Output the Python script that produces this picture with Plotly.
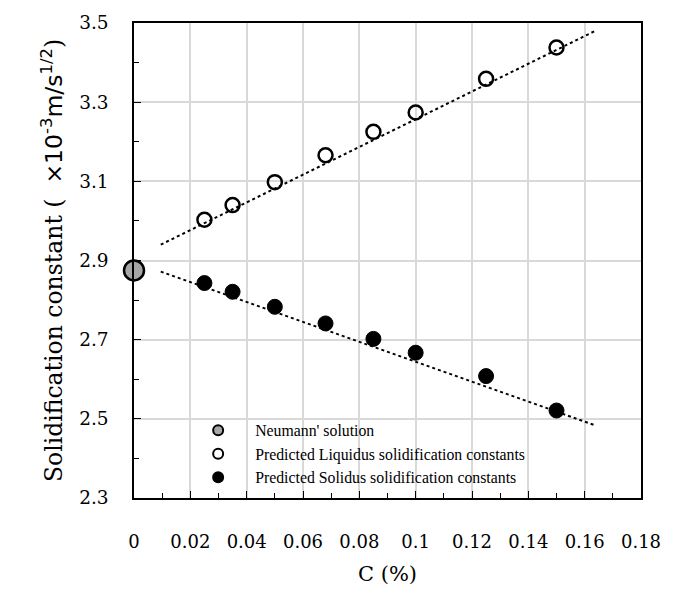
import plotly.graph_objects as go

c_vals = [0.025, 0.035, 0.05, 0.068, 0.085, 0.1, 0.125, 0.15]
liquidus = [3.003, 3.040, 3.098, 3.166, 3.225, 3.274, 3.359, 3.438]
solidus = [2.843, 2.821, 2.783, 2.741, 2.702, 2.667, 2.608, 2.521]
neumann_x = [0.0]
neumann_y = [2.875]
trend_x = [0.0095, 0.164]
trend_liquidus = [2.940, 3.481]
trend_solidus = [2.872, 2.483]

serif = "Liberation Serif"
big_serif = "DejaVu Serif"
fig = go.Figure()
fig.add_trace(go.Scatter(x=trend_x, y=trend_liquidus, mode="lines", line=dict(color="black", dash="dot", width=2),
                         showlegend=False, hoverinfo="skip"))
fig.add_trace(go.Scatter(x=trend_x, y=trend_solidus, mode="lines", line=dict(color="black", dash="dot", width=2),
                         showlegend=False, hoverinfo="skip"))
fig.add_trace(go.Scatter(x=neumann_x, y=neumann_y, mode="markers", showlegend=False, cliponaxis=False,
                         marker=dict(size=20, color="#a6a6a6", line=dict(color="black", width=2.5))))
fig.add_trace(go.Scatter(x=c_vals, y=liquidus, mode="markers", showlegend=False,
                         marker=dict(size=14, color="rgba(255,255,255,0)", line=dict(color="black", width=2.5))))
fig.add_trace(go.Scatter(x=c_vals, y=solidus, mode="markers", showlegend=False,
                         marker=dict(size=15, color="black", line=dict(color="black", width=1))))

legend_items = [
    ("Neumann' solution", "#a6a6a6"),
    ("Predicted Liquidus solidification constants", "white"),
    ("Predicted Solidus solidification constants", "black"),
]
for name, col in legend_items:
    fig.add_trace(go.Scatter(x=[None], y=[None], mode="markers", name=name,
                             marker=dict(size=10, color=col, line=dict(color="black", width=2))))

fig.update_layout(
    width=674, height=594,
    margin=dict(l=134, r=33, t=14, b=87),
    plot_bgcolor="white", paper_bgcolor="white",
    font=dict(family=serif, color="black", size=14.5),
    legend=dict(x=0.093, y=0.178, xanchor="left", yanchor="top", font=dict(size=15.8, family=serif),
                bgcolor="rgba(0,0,0,0)", itemsizing="trace", itemwidth=64, tracegroupgap=0),
    xaxis=dict(range=[0, 0.18], tickvals=[0, 0.02, 0.04, 0.06, 0.08, 0.1, 0.12, 0.14, 0.16, 0.18],
               ticktext=["0", "0.02", "0.04", "0.06", "0.08", "0.1", "0.12", "0.14", "0.16", "0.18"],
               showgrid=True, gridcolor="#d9d9d9", gridwidth=1.5,
               showline=True, linecolor="black", linewidth=1.5, mirror=True,
               ticks="inside", ticklen=7, tickcolor="black",
               minor=dict(dtick=0.01, ticks="inside", ticklen=5, tickcolor="black", showgrid=False),
               tickfont=dict(size=18, family=big_serif), ticklabelstandoff=27, zeroline=False,
               title=dict(text="C (%)", font=dict(size=21, family=big_serif), standoff=15)),
    yaxis=dict(range=[2.3, 3.5], tickvals=[2.3, 2.5, 2.7, 2.9, 3.1, 3.3, 3.5],
               ticktext=["2.3", "2.5", "2.7", "2.9", "3.1", "3.3", "3.5"],
               showgrid=True, gridcolor="#d9d9d9", gridwidth=1.5,
               showline=True, linecolor="black", linewidth=1.5, mirror=True,
               ticks="inside", ticklen=7, tickcolor="black",
               minor=dict(tickvals=[2.4, 2.6, 2.8, 3.0, 3.2, 3.4], ticks="inside", ticklen=5, tickcolor="black", showgrid=False),
               tickfont=dict(size=18.5, family=big_serif), ticklabelstandoff=20, zeroline=False,
               title=dict(text="Solidification constant (  <span style='font-family:DejaVu Sans'>×10<sup>-3</sup>m/s<sup>1/2</sup></span>)",
                          font=dict(size=23.5, family=big_serif), standoff=10)),
)
fig.write_html("out.html")
